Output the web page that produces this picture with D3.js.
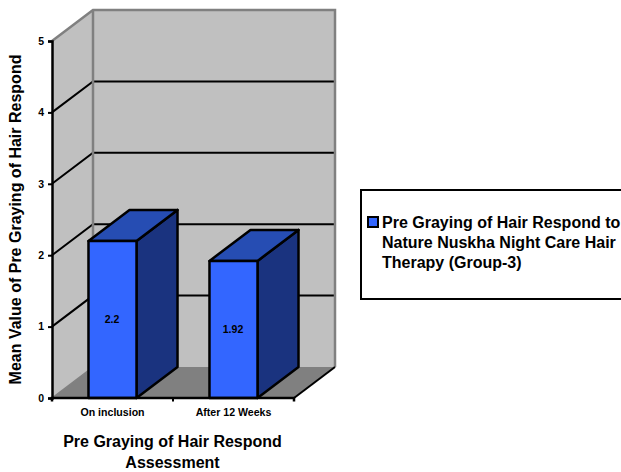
<!DOCTYPE html>
<html><head><meta charset="utf-8">
<script src="https://cdn.jsdelivr.net/npm/d3@7"></script>
<style>html,body{margin:0;padding:0;background:#fff;overflow:hidden}svg{display:block}text{font-family:"Liberation Sans",Arial,sans-serif;font-weight:bold;fill:#000}</style>
</head><body><svg id="c" width="621" height="472"></svg>
<script>
const categories = ["On inclusion", "After 12 Weeks"];
const seriesValues = [2.2, 1.92];
const yTicks = [0, 1, 2, 3, 4, 5];
const seriesName = ["Pre Graying of Hair Respond to", "Nature Nuskha Night Care Hair", "Therapy (Group-3)"];
const xTitle = ["Pre Graying of Hair Respond", "Assessment"];
const yTitle = "Mean Value of Pre Graying of Hair Respond";

const DX = 41, DY = -31;
const svg = d3.select("#c");
const y = d3.scaleLinear().domain([0, 5]).range([398, 41]);
const x = d3.scaleBand().domain(categories).range([52, 294]).paddingInner(0.603).paddingOuter(0.3015);
const poly = pts => pts.map(p => p.join(",")).join(" ");
const x0 = x.range()[0], x1 = x.range()[1], yB = y(0), yT = y(5);

// walls and floor
svg.append("polygon").attr("points", poly([[x0,yB],[x0,yT],[x0+DX,yT+DY],[x0+DX,yB+DY]])).attr("fill","#c0c0c0");
svg.append("polygon").attr("points", poly([[x0+DX,yT+DY],[x1+DX,yT+DY],[x1+DX,yB+DY],[x0+DX,yB+DY]])).attr("fill","#c0c0c0");
svg.append("polygon").attr("points", poly([[x0,yB],[x0+DX,yB+DY],[x1+DX,yB+DY],[x1,yB]])).attr("fill","#808080");

// gridlines
yTicks.filter(t => t > 0 && t < 5).forEach(t => {
  svg.append("polyline").attr("points", poly([[x0,y(t)],[x0+DX,y(t)+DY],[x1+DX,y(t)+DY]]))
    .attr("fill","none").attr("stroke","#000").attr("stroke-width",2);
});
// wall edges
svg.append("polyline").attr("points", poly([[x0,yT],[x0+DX,yT+DY],[x1+DX,yT+DY],[x1+DX,yB+DY]]))
  .attr("fill","none").attr("stroke","#808080").attr("stroke-width",2.5);
svg.append("line").attr("x1",x0+DX).attr("x2",x0+DX).attr("y1",yT+DY).attr("y2",yB+DY).attr("stroke","#808080").attr("stroke-width",2.5);
svg.append("line").attr("x1",x0).attr("x2",x0+DX).attr("y1",yB).attr("y2",yB+DY).attr("stroke","#808080").attr("stroke-width",1.5);
svg.append("line").attr("x1",x1).attr("x2",x1+DX).attr("y1",yB).attr("y2",yB+DY).attr("stroke","#000").attr("stroke-width",2);

// bars
const bars = svg.selectAll("g.bar").data(categories.map((c,i)=>({c,v:seriesValues[i]}))).join("g").attr("class","bar")
  .attr("stroke","#000").attr("stroke-width",2.5).attr("stroke-linejoin","round");
bars.append("polygon").attr("fill","#1a337f").attr("points", d => { const r=x(d.c)+x.bandwidth(), t=y(d.v);
  return poly([[r,yB],[r,t],[r+DX,t+DY],[r+DX,yB+DY]]); });
bars.append("polygon").attr("fill","#264db3").attr("points", d => { const l=x(d.c), r=l+x.bandwidth(), t=y(d.v);
  return poly([[l,t],[l+DX,t+DY],[r+DX,t+DY],[r,t]]); });
bars.append("rect").attr("fill","#3366ff").attr("x",d=>x(d.c)).attr("y",d=>y(d.v)).attr("width",x.bandwidth()).attr("height",d=>yB-y(d.v));
svg.selectAll("text.val").data(categories.map((c,i)=>({c,v:seriesValues[i]}))).join("text").attr("class","val")
  .attr("x",d=>x(d.c)+x.bandwidth()/2-0.5).attr("y",d=>(y(d.v)+yB)/2+3.5).attr("text-anchor","middle").attr("font-size",10.5).text(d=>d.v);

// axes
const yAxis = d3.axisLeft(y).tickValues(yTicks).tickSize(4).tickPadding(4).tickFormat(d3.format("d"));
const ga = svg.append("g").attr("transform",`translate(${x0},0)`).call(yAxis);
ga.select(".domain").attr("stroke","#000").attr("stroke-width",2.5);
ga.selectAll(".tick line").attr("stroke","#000").attr("stroke-width",2);
ga.selectAll("text").attr("font-size",10.5).attr("font-family",null);

const xAxis = d3.axisBottom(x).tickSize(0).tickPadding(10);
const gb = svg.append("g").attr("transform",`translate(0,${yB})`).call(xAxis);
gb.select(".domain").attr("stroke","#000").attr("stroke-width",2.5).attr("d",`M${x0},3.5V0H${x1}V3.5`);
gb.selectAll("text").attr("font-size",10.6);
svg.append("line").attr("x1",(x0+x1)/2).attr("x2",(x0+x1)/2).attr("y1",yB).attr("y2",yB+3.5).attr("stroke","#000").attr("stroke-width",2);

// titles
svg.selectAll("text.xt").data(xTitle).join("text").attr("class","xt").attr("x",172.5).attr("y",(d,i)=>447+i*21)
  .attr("text-anchor","middle").attr("font-size",16).text(d=>d);
svg.append("text").attr("transform","translate(20.5,219.5) rotate(-90)").attr("text-anchor","middle").attr("font-size",16).text(yTitle);

// legend
svg.append("rect").attr("x",361).attr("y",190).attr("width",270).attr("height",109).attr("fill","#fff").attr("stroke","#000").attr("stroke-width",2);
svg.append("rect").attr("x",368).attr("y",217).attr("width",10).attr("height",10).attr("fill","#3366ff").attr("stroke","#000").attr("stroke-width",2);
svg.selectAll("text.lg").data(seriesName).join("text").attr("class","lg").attr("x",382).attr("y",(d,i)=>228+i*20)
  .attr("font-size",16).text(d=>d);
</script></body></html>
